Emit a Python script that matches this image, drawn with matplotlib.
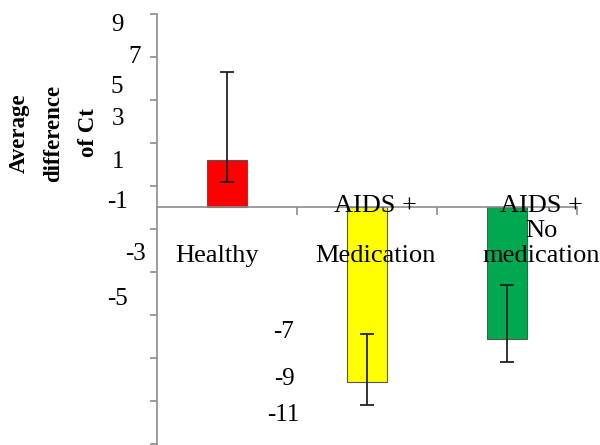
import matplotlib
matplotlib.use("Agg")
import matplotlib.pyplot as plt
import numpy as np

# Data
categories = ["Healthy", "AIDS +\nMedication", "AIDS +\nNo\nmedication"]
values = [2.2, -8.1, -6.1]
err_lower = [1.0, 1.1, 1.1]
err_upper = [4.1, 2.2, 2.5]
colors = ["#ff0000", "#ffff00", "#00a84f"]
ytick_values = [9, 7, 5, 3, 1, -1, -3, -5, -7, -9, -11]
ytick_labels = ["9", "7", "5", "3", "1", "-1", "-3", "-5", "-7", "-9", "-11"]
y_label = "Average\ndifference\nof Ct"

SERIF = "Liberation Serif"
DPI = 100
W, H = 600, 445

fig = plt.figure(figsize=(W / DPI, H / DPI), dpi=DPI)
fig.patch.set_facecolor("white")
ax = fig.add_axes([157 / W, 0.0, (577 - 157) / W, (H - 14) / H])

x = np.arange(len(categories))
ax.bar(x, values, width=0.29, color=colors, edgecolor="#555555", linewidth=0.8, zorder=2)
ax.errorbar(x, values, yerr=[err_lower, err_upper], fmt="none", ecolor="#222222",
            elinewidth=1.3, capsize=5, capthick=1.3, zorder=3)

ax.set_xlim(-0.5, 2.5)
ax.set_ylim(-11.05, 9)

axis_color = "#8c8c8c"
for s in ("top", "right"):
    ax.spines[s].set_visible(False)
ax.spines["left"].set_color(axis_color)
ax.spines["left"].set_linewidth(1.2)
ax.spines["bottom"].set_color(axis_color)
ax.spines["bottom"].set_linewidth(1.2)
ax.spines["bottom"].set_position(("data", 0))

ax.set_xticks([0.5, 1.5, 2.5])
ax.set_xticklabels([])
ax.set_yticks(ytick_values)
ax.set_yticklabels([])
ax.tick_params(axis="x", direction="out", length=6, width=1.2, color=axis_color)
ax.tick_params(axis="y", direction="out", length=5, width=1.2, color=axis_color)

px = 72.0 / DPI
zero_y = 14 + 9 * (H - 14) / 20.05

# Vertical-axis labels, each shifted to its own place (pixel offsets from its tick)
label_centers = {
    9: (117, 25), 7: (135, 57), 5: (117, 87), 3: (118, 119), 1: (118, 162),
    -1: (117, 202), -3: (135, 254), -5: (118, 299), -7: (284, 332),
    -9: (284, 379), -11: (283, 415),
}
for v, txt in zip(ytick_values, ytick_labels):
    cx, cy = label_centers[v]
    ty = 14 + (9 - v) * (H - 14) / 20.05
    ax.annotate(txt, xy=(0, v), xycoords=("axes fraction", "data"),
                xytext=((cx - 157) * px, -(cy - ty) * px), textcoords="offset points",
                ha="center", va="center", fontsize=18, family=SERIF,
                annotation_clip=False)

# Category labels: first line baseline near the axis, last line lower down
cat_dx = [-10, 8, 34]
first_base, last_base = 212, 262
for i, (lab, dx) in enumerate(zip(categories, cat_dx)):
    lines = lab.split("\n")
    n = len(lines)
    if n == 1:
        bases = [last_base]
    else:
        bases = [first_base + k * (last_base - first_base) / (n - 1) for k in range(n)]
    for line, b in zip(lines, bases):
        ax.annotate(line, xy=(i, 0), xycoords="data",
                    xytext=(dx * px, -(b - zero_y) * px), textcoords="offset points",
                    ha="center", va="baseline", fontsize=19, family=SERIF,
                    annotation_clip=False)

fig.text(54 / W, 1 - 133 / H, y_label, rotation=90, ha="center", va="center",
         multialignment="center", fontsize=16.5, fontweight="bold", family=SERIF,
         linespacing=1.85)

fig.savefig("out.png", dpi=DPI, facecolor="white")
